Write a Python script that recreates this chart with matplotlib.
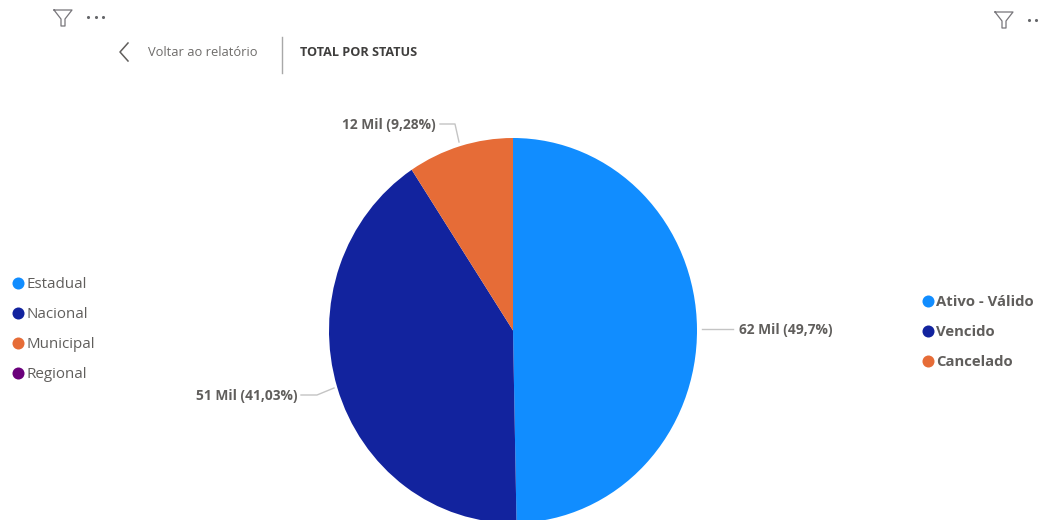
import matplotlib
matplotlib.use("Agg")
import matplotlib.pyplot as plt

status_names = ["Ativo - Válido", "Vencido", "Cancelado"]
status_share = [49.7, 41.03, 9.28]
status_labels = ["62 Mil (49,7%)", "51 Mil (41,03%)", "12 Mil (9,28%)"]
status_colors = ["#118DFF", "#12239E", "#E66C37"]
scope_names = ["Estadual", "Nacional", "Municipal", "Regional"]
scope_colors = ["#118DFF", "#12239E", "#E66C37", "#6B007B"]

W, H = 1040, 520
plt.rcParams["font.family"] = ["Open Sans", "DejaVu Sans"]
fig = plt.figure(figsize=(W / 100, H / 100), dpi=100, facecolor="white")

# Overlay in pixel coordinates for the report chrome
ov = fig.add_axes([0, 0, 1, 1], zorder=2)
ov.set_xlim(0, W)
ov.set_ylim(H, 0)
ov.axis("off")
ov.patch.set_alpha(0)

# Pie (slightly taller than wide in the reference, cut by the bottom edge)
L, R, T, B = 329, 697, 138, 523
pie = fig.add_axes([L / W, 1 - B / H, (R - L) / W, (B - T) / H], zorder=1)
pie.pie(status_share, colors=status_colors, startangle=90, counterclock=False, radius=1,
        wedgeprops=dict(linewidth=0))
pie.set_aspect("auto")
pie.set_xlim(-1, 1)
pie.set_ylim(-1, 1)

TXT = "#605E5C"
LINE = "#C4C4C4"

# Data labels with leader lines
label_pos = [(739, 330, "left"), (297, 396, "right"), (436, 125, "right")]
leaders = [[(702, 329), (733, 329)],
           [(301, 395), (317, 395), (334, 388)],
           [(440, 124), (455, 124), (459, 142)]]
for s, (x, y, ha), ln in zip(status_labels, label_pos, leaders):
    ov.text(x, y, s, ha=ha, va="center", fontsize=9.9, fontweight="bold", color=TXT)
    ov.plot(*zip(*ln), color=LINE, lw=1)

# Left legend
for i, (n, c) in enumerate(zip(scope_names, scope_colors)):
    y = 283 + i * 30
    ov.scatter([18], [y], s=75, color=c, linewidths=0)
    ov.text(26, y + 1.5, n, ha="left", va="center", fontsize=10.9, color=TXT)

# Right legend
for i, (n, c) in enumerate(zip(status_names, status_colors)):
    y = 301 + i * 30
    ov.scatter([928], [y], s=75, color=c, linewidths=0)
    ov.text(936, y + 0.5, n, ha="left", va="center", fontsize=10.7, fontweight="bold", color=TXT)

# Header
ov.plot([128, 120, 128], [43, 52, 61], color="#605E5C", lw=1.1)
ov.text(148, 53, "Voltar ao relatório", ha="left", va="center", fontsize=9.3, color="#6E6C6A")
ov.plot([281.5, 281.5], [37, 73], color="#A8A8A8", lw=1)
ov.text(300, 52.5, "TOTAL POR STATUS", ha="left", va="center", fontsize=9.1, fontweight="bold",
        color="#3F3E3D")

def funnel(x, y):
    ov.plot([x, x + 18, x + 11, x + 11, x + 7, x + 7, x],
            [y, y, y + 9, y + 16, y + 16, y + 9, y], color="#77757A", lw=0.9)

funnel(54, 10)
funnel(995, 12)
ov.scatter([88, 95.5, 103], [17, 17, 17], s=5, color="#66676A", linewidths=0)
ov.scatter([1029, 1036], [20, 20], s=5, color="#66676A", linewidths=0)

fig.savefig("out.png", dpi=100, facecolor="white")
